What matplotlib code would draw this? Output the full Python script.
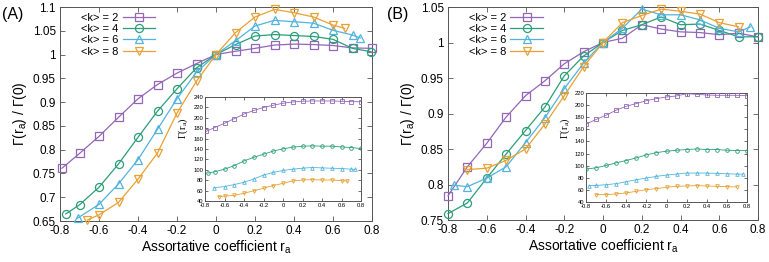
import numpy as np
import matplotlib
matplotlib.use("Agg")
import matplotlib.pyplot as plt
from matplotlib.lines import Line2D

plt.rcParams['font.family'] = ['Liberation Sans', 'DejaVu Sans']
plt.rcParams['mathtext.fontset'] = 'custom'
plt.rcParams['mathtext.rm'] = 'Liberation Sans'

labels = ['<k> = 2', '<k> = 4', '<k> = 6', '<k> = 8']
colors = ['#9366b8', '#2a9e79', '#52b3de', '#e8a132']
markers = ['s', 'o', '^', 'v']

mid = [-0.6, -0.5, -0.4, -0.3, -0.2, -0.1, 0.0, 0.1, 0.2, 0.3, 0.4, 0.5, 0.6]

# ---- Panel A ----
xA = [[-0.79, -0.7] + mid + [0.7, 0.8],
      [-0.77, -0.7] + mid + [0.7, 0.795],
      [-0.71] + mid + [0.7, 0.74],
      [-0.66] + mid + [0.66]]
ratioA = [
    [0.761, 0.792, 0.828, 0.868, 0.907, 0.937, 0.961, 0.981, 1.0, 1.007, 1.013, 1.020, 1.022, 1.021, 1.019, 1.014, 1.013],
    [0.665, 0.684, 0.721, 0.770, 0.826, 0.881, 0.928, 0.972, 1.0, 1.021, 1.039, 1.042, 1.040, 1.038, 1.032, 1.013, 1.006],
    [0.656, 0.685, 0.728, 0.779, 0.843, 0.907, 0.963, 1.0, 1.029, 1.060, 1.072, 1.069, 1.066, 1.051, 1.041, 1.035],
    [0.652, 0.663, 0.689, 0.738, 0.793, 0.877, 0.944, 1.0, 1.046, 1.079, 1.095, 1.088, 1.079, 1.062, 1.055],
]
gammaA = [
    [173.8, 181.3, 189.5, 198.4, 207.2, 214.1, 219.8, 224.2, 228.0, 230.5, 231.8, 232.4, 232.4, 232.4, 231.8, 231.0, 231.0],
    [93.6, 96.2, 101.2, 108.0, 117.0, 124.0, 130.0, 136.0, 140.3, 143.5, 145.4, 146.0, 145.4, 145.4, 144.0, 142.8, 141.0],
    [65.3, 67.8, 71.6, 76.0, 82.3, 89.9, 95.0, 98.7, 101.2, 103.1, 104.4, 103.7, 103.0, 102.5, 101.2, 100.6],
    [48.5, 49.5, 50.7, 55.0, 59.6, 64.6, 69.6, 74.0, 78.5, 80.4, 81.0, 80.4, 80.4, 79.1, 78.5],
]

# ---- Panel B ----
xB = [[-0.8, -0.7] + mid + [0.7, 0.8],
      [-0.8, -0.7] + mid + [0.7, 0.8],
      [-0.77, -0.7] + mid + [0.7, 0.76],
      [-0.7] + mid + [0.7]]
ratioB = [
    [0.784, 0.825, 0.858, 0.895, 0.925, 0.946, 0.970, 0.987, 1.0, 1.006, 1.025, 1.019, 1.015, 1.014, 1.011, 1.013, 1.008],
    [0.759, 0.774, 0.809, 0.843, 0.876, 0.909, 0.953, 0.981, 1.0, 1.017, 1.025, 1.036, 1.025, 1.026, 1.017, 1.008, 1.008],
    [0.799, 0.797, 0.809, 0.825, 0.859, 0.894, 0.935, 0.971, 1.0, 1.020, 1.047, 1.039, 1.039, 1.032, 1.020, 1.015, 1.022],
    [0.821, 0.823, 0.834, 0.850, 0.885, 0.925, 0.966, 1.0, 1.028, 1.038, 1.047, 1.044, 1.040, 1.028, 1.022],
]
gammaB = [
    [168.6, 176.3, 183.4, 191.6, 198.1, 202.5, 207.4, 210.7, 213.4, 215.1, 218.9, 217.8, 216.7, 216.2, 216.2, 216.2, 215.5],
    [94.3, 96.5, 100.3, 104.7, 108.5, 112.9, 117.8, 121.6, 123.8, 125.5, 126.6, 127.7, 126.6, 126.6, 125.5, 124.9, 124.9],
    [67.0, 67.3, 68.6, 70.3, 73.6, 76.8, 79.6, 82.3, 84.5, 86.1, 87.8, 87.8, 87.8, 87.2, 86.7, 86.1, 86.1],
    [52.2, 52.2, 53.3, 55.0, 57.7, 60.4, 62.1, 64.3, 65.9, 66.4, 67.0, 66.4, 65.9, 65.4, 64.8],
]

xticks = [-0.8, -0.6, -0.4, -0.2, 0, 0.2, 0.4, 0.6, 0.8]
xticklabels = ['-0.8', '-0.6', '-0.4', '-0.2', '0', '0.2', '0.4', '0.6', '0.8']
yticksA = [0.65, 0.7, 0.75, 0.8, 0.85, 0.9, 0.95, 1.0, 1.05, 1.1]
yticklabelsA = ['0.65', '0.7', '0.75', '0.8', '0.85', '0.9', '0.95', '1', '1.05', '1.1']
yticksB = [0.75, 0.8, 0.85, 0.9, 0.95, 1.0, 1.05]
yticklabelsB = ['0.75', '0.8', '0.85', '0.9', '0.95', '1', '1.05']
insetticksA = list(range(40, 241, 20))
insetticksB = list(range(40, 221, 20))

fig = plt.figure(figsize=(7.69, 2.62), dpi=100)

W, H = 769, 262
def rect(x0, y0, x1, y1):
    return [x0 / W, 1 - y1 / H, (x1 - x0) / W, (y1 - y0) / H]

def style_axes(ax, fs, length, pad):
    ax.tick_params(direction='in', top=True, right=True, labelsize=fs,
                   length=length, width=0.6, pad=pad, color='#555555')
    for s in ax.spines.values():
        s.set_linewidth(0.7)
        s.set_color('#555555')

panels = [
    dict(main=rect(60, 7, 372, 221), inset=rect(205, 97, 361, 201),
         xs=xA, ratio=ratioA, gamma=gammaA, ylim=(0.65, 1.1), yt=yticksA, ytl=yticklabelsA,
         iylim=(40, 240), it=insetticksA, label='(A)', lx=2, ilx=183),
    dict(main=rect(448, 7, 758, 220), inset=rect(586, 93, 747, 202),
         xs=xB, ratio=ratioB, gamma=gammaB, ylim=(0.75, 1.05), yt=yticksB, ytl=yticklabelsB,
         iylim=(40, 220), it=insetticksB, label='(B)', lx=387, ilx=565),
]

for p in panels:
    ax = fig.add_axes(p['main'])
    for i in range(4):
        ax.plot(p['xs'][i], p['ratio'][i], color=colors[i], marker=markers[i],
                ms=5.8, mfc='none', mew=0.9, lw=0.9, clip_on=False, zorder=3)
    ax.set_xlim(-0.8, 0.8)
    ax.set_ylim(*p['ylim'])
    ax.set_xticks(xticks)
    ax.set_xticklabels(xticklabels)
    ax.set_yticks(p['yt'])
    ax.set_yticklabels(p['ytl'])
    style_axes(ax, 8.5, 3.5, 3)
    ax.set_xlabel('Assortative coefficient r$_\\mathregular{a}$', fontsize=10, labelpad=1)
    ax.set_ylabel('Γ(r$_\\mathregular{a}$) / Γ(0)', fontsize=10, labelpad=3)
    handles = [Line2D([], [], color=colors[i], marker=markers[i], ms=5.8, mfc='none',
                      mew=0.9, lw=0.9) for i in range(4)]
    ax.legend(handles, labels, loc='upper left', bbox_to_anchor=(0.045, 1.005),
              frameon=False, markerfirst=False, fontsize=8, handlelength=2.9,
              labelspacing=0.12, handletextpad=0.4, borderaxespad=0.2,
              alignment='right')
    fig.text(p['lx'] / W, 1 - 15 / H, p['label'], fontsize=11.5, va='center', ha='left')

    ins = fig.add_axes(p['inset'])
    for i in range(4):
        ins.plot(p['xs'][i], p['gamma'][i], color=colors[i], marker=markers[i],
                 ms=2.6, mfc='none', mew=0.6, lw=0.6, zorder=3)
    ins.set_xlim(-0.8, 0.8)
    ins.set_ylim(*p['iylim'])
    ins.set_xticks(xticks)
    ins.set_xticklabels(xticklabels)
    ins.set_yticks(p['it'])
    style_axes(ins, 4.2, 2, 1.2)
    fig.text(p['ilx'] / W, 1 - 128 / H, 'Γ(r$_\\mathregular{a}$)', fontsize=7.5,
             rotation=90, va='center', ha='center', family='Liberation Serif')

fig.savefig('out.png', dpi=100)
